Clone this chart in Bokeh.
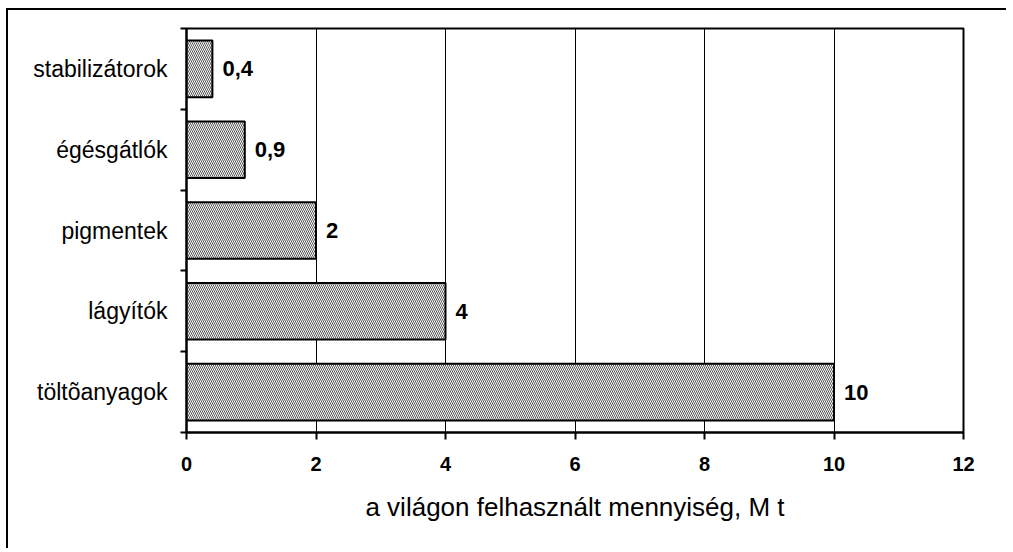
from bokeh.plotting import figure
from bokeh.models import Range1d, FixedTicker
from bokeh.core.properties import value
from bokeh.embed import file_html
from bokeh.resources import INLINE

categories = ["töltõanyagok", "lágyítók", "pigmentek", "égésgátlók", "stabilizátorok"]
amounts = [10, 4, 2, 0.9, 0.4]
x_ticks = [0, 2, 4, 6, 8, 10, 12]
x_title = "a világon felhasznált mennyiség, M t"

centers = [i + 0.5 for i in range(len(categories))]
value_labels = [f"{v:g}".replace(".", ",") for v in amounts]

FONT = "Liberation Sans"

p = figure(width=1000, height=540, output_backend="svg", toolbar_location=None,
           x_range=Range1d(0, 12), y_range=Range1d(0, len(categories)),
           min_border_left=178, min_border_right=45, min_border_top=18,
           min_border_bottom=118)

p.styles = {"margin-left": "6px", "margin-top": "8px",
            "border-top": "2px solid black", "border-left": "2px solid black"}

p.outline_line_color = "black"
p.outline_line_width = 2
p.outline_line_alpha = 1

p.hbar(y=centers, right=amounts, left=0, height=0.7,
       fill_color="white", hatch_pattern="\\", hatch_color="#555555",
       hatch_scale=4, hatch_weight=1,
       line_color="black", line_width=2)

p.text(x=amounts, y=centers, text=value_labels, x_offset=10,
       text_baseline="middle", text_align="left",
       text_font=value(FONT), text_font_style="bold", text_font_size="22px",
       text_color="black")

# x axis
p.xaxis.ticker = FixedTicker(ticks=x_ticks)
p.xaxis.axis_label = x_title
p.xaxis.axis_label_text_font = FONT
p.xaxis.axis_label_text_font_style = "normal"
p.xaxis.axis_label_text_font_size = "26px"
p.xaxis.axis_label_text_color = "black"
p.xaxis.axis_label_standoff = 18
p.xaxis.major_label_text_font = FONT
p.xaxis.major_label_text_font_style = "bold"
p.xaxis.major_label_text_font_size = "20px"
p.xaxis.major_label_text_color = "black"
p.xaxis.major_label_standoff = 17
p.xaxis.major_tick_out = 7
p.xaxis.major_tick_in = 0
p.xaxis.major_tick_line_width = 2
p.xaxis.minor_tick_line_color = None
p.xaxis.axis_line_width = 2
p.xaxis.axis_line_color = "black"

# y axis
p.yaxis.ticker = FixedTicker(ticks=centers, minor_ticks=list(range(len(categories) + 1)))
p.yaxis.major_label_overrides = {c: name for c, name in zip(centers, categories)}
p.yaxis.major_label_text_font = FONT
p.yaxis.major_label_text_font_size = "23px"
p.yaxis.major_label_text_color = "black"
p.yaxis.major_label_standoff = 13
p.yaxis.major_tick_out = 0
p.yaxis.major_tick_in = 0
p.yaxis.major_tick_line_color = None
p.yaxis.minor_tick_out = 6
p.yaxis.minor_tick_in = 0
p.yaxis.minor_tick_line_width = 2
p.yaxis.minor_tick_line_color = "black"
p.yaxis.axis_line_width = 2
p.yaxis.axis_line_color = "black"

p.xgrid.ticker = FixedTicker(ticks=x_ticks)
p.xgrid.grid_line_color = "black"
p.xgrid.grid_line_width = 1
p.ygrid.grid_line_color = None

p.background_fill_color = "white"
p.border_fill_color = "white"

open("out.html", "w").write(file_html(p, INLINE))
